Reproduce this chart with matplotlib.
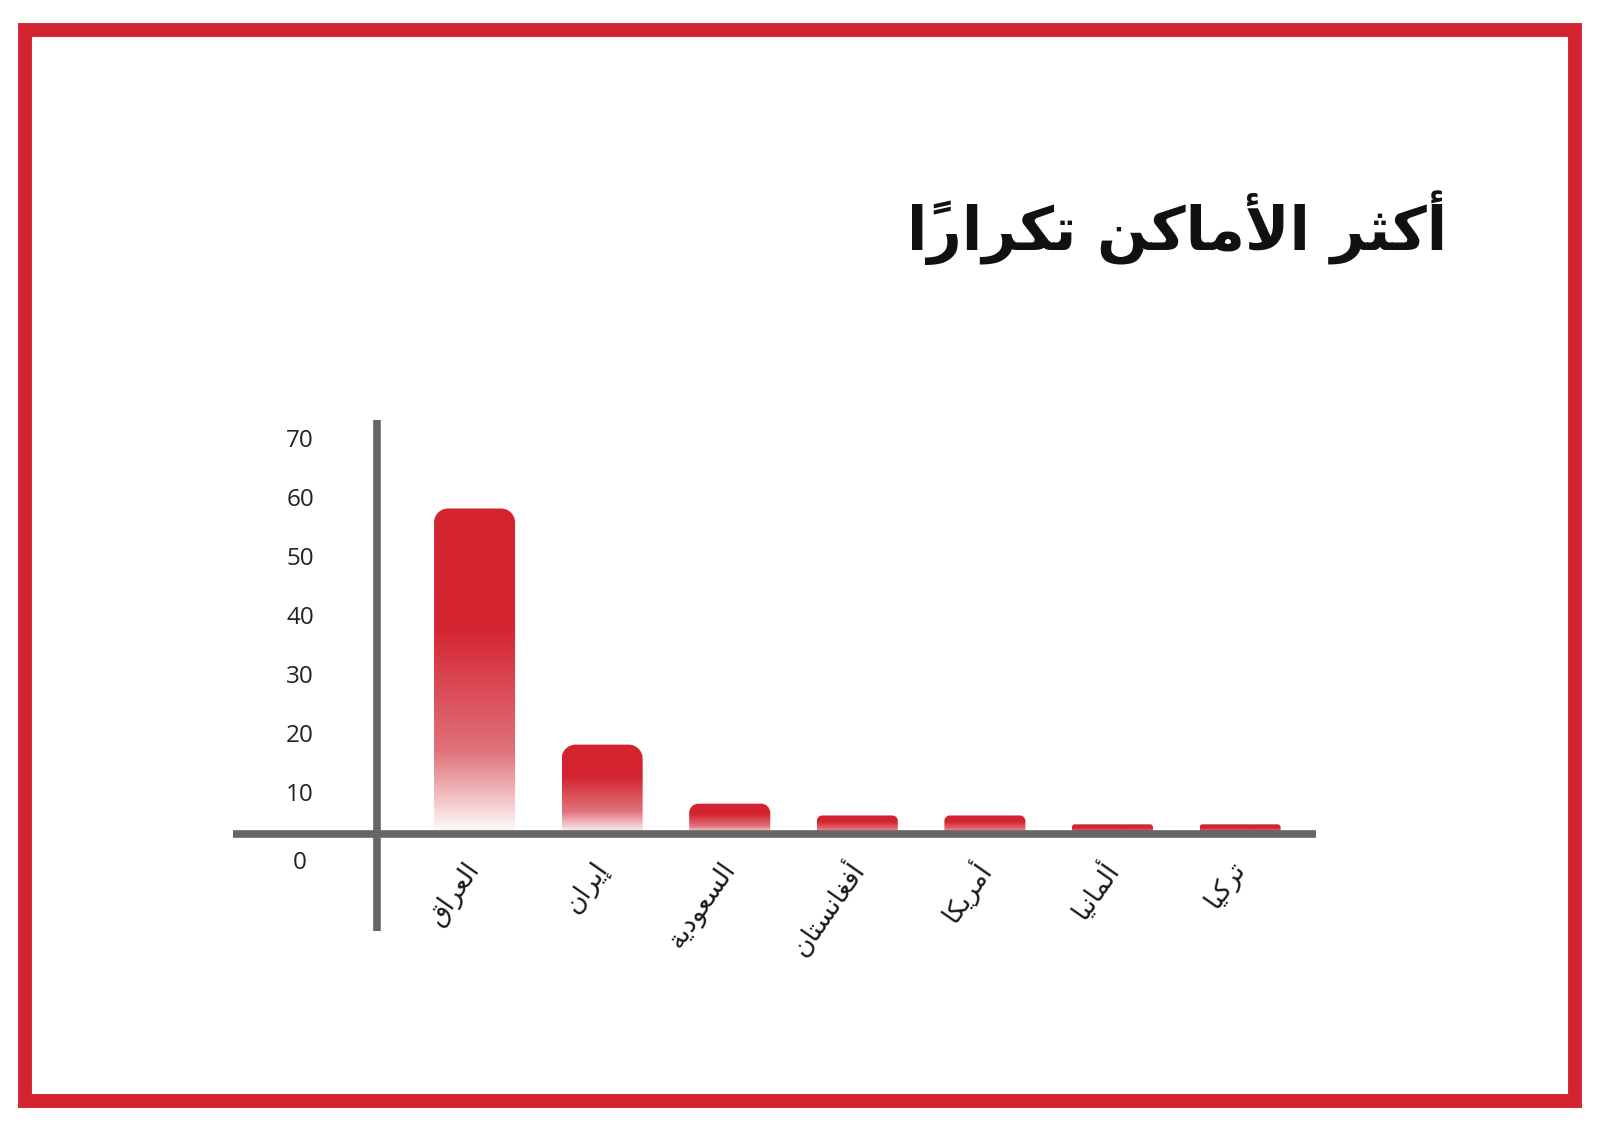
import numpy as np
import matplotlib
matplotlib.use('Agg')
import matplotlib.pyplot as plt
from matplotlib.path import Path
from matplotlib.patches import PathPatch, Rectangle
from matplotlib.colors import LinearSegmentedColormap
from matplotlib.transforms import ScaledTranslation

# البيانات
countries = ['العراق', 'إيران', 'السعودية', 'أفغانستان', 'أمريكا', 'ألمانيا', 'تركيا']
counts = [58, 18, 8, 6, 6, 4.5, 4.5]
y_ticks = [0, 10, 20, 30, 40, 50, 60, 70]
title = 'أكثر الأماكن تكرارًا'

RED = '#D42430'
GREY = '#666666'

# تشكيل الحروف العربية يدوياً (matplotlib لا يدعم الربط)
FORMS = {
    'ا': ('\uFE8D', '\uFE8E'), 'أ': ('\uFE83', '\uFE84'), 'إ': ('\uFE87', '\uFE88'),
    'ر': ('\uFEAD', '\uFEAE'), 'و': ('\uFEED', '\uFEEE'), 'د': ('\uFEA9', '\uFEAA'),
    'ة': ('\uFE93', '\uFE94'),
    'ل': ('\uFEDD', '\uFEDE', '\uFEDF', '\uFEE0'), 'ع': ('\uFEC9', '\uFECA', '\uFECB', '\uFECC'),
    'ق': ('\uFED5', '\uFED6', '\uFED7', '\uFED8'), 'ي': ('\uFEF1', '\uFEF2', '\uFEF3', '\uFEF4'),
    'ن': ('\uFEE5', '\uFEE6', '\uFEE7', '\uFEE8'), 'س': ('\uFEB1', '\uFEB2', '\uFEB3', '\uFEB4'),
    'ف': ('\uFED1', '\uFED2', '\uFED3', '\uFED4'), 'غ': ('\uFECD', '\uFECE', '\uFECF', '\uFED0'),
    'ت': ('\uFE95', '\uFE96', '\uFE97', '\uFE98'), 'م': ('\uFEE1', '\uFEE2', '\uFEE3', '\uFEE4'),
    'ك': ('\uFED9', '\uFEDA', '\uFEDB', '\uFEDC'), 'ث': ('\uFE99', '\uFE9A', '\uFE9B', '\uFE9C'),
}
LAM_ALEF = {'ا': ('\uFEFB', '\uFEFC'), 'أ': ('\uFEF7', '\uFEF8'), 'إ': ('\uFEF9', '\uFEFA')}
MARKS = {'\u064B'}


def is_letter(t):
    return t in FORMS or (len(t) == 2 and t[0] == 'ل')


def joins_next(t):
    return t in FORMS and len(FORMS[t]) == 4


def shape(text):
    toks = []
    i = 0
    while i < len(text):
        if text[i] == 'ل' and i + 1 < len(text) and text[i + 1] in LAM_ALEF:
            toks.append(text[i:i + 2])
            i += 2
        else:
            toks.append(text[i])
            i += 1
    out = []
    for k, t in enumerate(toks):
        if not is_letter(t):
            out.append(t)
            continue
        j = k - 1
        while j >= 0 and toks[j] in MARKS:
            j -= 1
        p = j >= 0 and joins_next(toks[j])
        j = k + 1
        while j < len(toks) and toks[j] in MARKS:
            j += 1
        n = joins_next(t) and j < len(toks) and is_letter(toks[j])
        if len(t) == 2:
            g = LAM_ALEF[t[1]][1 if p else 0]
        else:
            f = FORMS[t]
            if p and n:
                g = f[3]
            elif n:
                g = f[2]
            elif p:
                g = f[1]
            else:
                g = f[0]
        out.append(g)
    # ترتيب بصري من اليمين لليسار
    return ''.join(reversed(out))


fig = plt.figure(figsize=(16, 11.31), dpi=100)
fig.patch.set_facecolor('white')

# الإطار الأحمر
fig.add_artist(Rectangle((25 / 1600, 30 / 1131), 1550 / 1600, 1071 / 1131,
                         transform=fig.transFigure, fill=False,
                         edgecolor=RED, linewidth=10, joinstyle='miter'))

fig.text(1447 / 1600, 1 - 250 / 1131, shape(title), ha='right', va='baseline',
         fontsize=43, fontweight='bold', color='#111111', family='DejaVu Sans')

ax = fig.add_axes([0.1454, 0.1772, 0.6771, 0.4515])
ax.set_xlim(-1.896, 6.595)
ax.set_ylim(-13.5, 73.0)

x = np.arange(len(countries))
base = 2.9
width = 0.635

fig.canvas.draw()
px_x = ax.transData.transform((1, 0))[0] - ax.transData.transform((0, 0))[0]
px_y = ax.transData.transform((0, 1))[1] - ax.transData.transform((0, 0))[1]

cmap = LinearSegmentedColormap.from_list(
    'bar', [(0, RED), (0.36, RED), (0.75, '#E0737B'), (1.0, '#FFFFFF')])
grad = np.linspace(0, 1, 256).reshape(-1, 1)
k = 0.5523

for xi, v in zip(x, counts):
    x0, x1 = xi - width / 2, xi + width / 2
    y0, y1 = base, v
    h_px = (y1 - y0) * px_y
    r = min(14, 0.3 * h_px)
    rx, ry = r / px_x, r / px_y
    verts = [(x0, y0), (x0, y1 - ry),
             (x0, y1 - ry + k * ry), (x0 + rx - k * rx, y1), (x0 + rx, y1),
             (x1 - rx, y1),
             (x1 - rx + k * rx, y1), (x1, y1 - ry + k * ry), (x1, y1 - ry),
             (x1, y0), (x0, y0)]
    codes = [Path.MOVETO, Path.LINETO,
             Path.CURVE4, Path.CURVE4, Path.CURVE4,
             Path.LINETO,
             Path.CURVE4, Path.CURVE4, Path.CURVE4,
             Path.LINETO, Path.CLOSEPOLY]
    patch = PathPatch(Path(verts, codes), facecolor='none', edgecolor='none')
    ax.add_patch(patch)
    im = ax.imshow(grad, extent=[x0, x1, y0, y1], aspect='auto', cmap=cmap,
                   origin='upper', zorder=2, interpolation='bilinear')
    im.set_clip_path(patch)

ax.set_xlim(-1.896, 6.595)
ax.set_ylim(-13.5, 73.0)

for s in ['top', 'right']:
    ax.spines[s].set_visible(False)
ax.spines['left'].set_position(('data', -0.768))
ax.spines['bottom'].set_position(('data', base))
for s in ['left', 'bottom']:
    ax.spines[s].set_color(GREY)
    ax.spines[s].set_linewidth(5.5)
    ax.spines[s].set_capstyle('butt')
    ax.spines[s].set_zorder(3)

ax.set_yticks(y_ticks)
ax.set_yticklabels([str(t) for t in y_ticks], fontsize=17.5, color='#222222',
                   family='Open Sans')
ax.tick_params(axis='y', length=0, pad=55)
for lab in ax.get_yticklabels():
    lab.set_ha('center')
zero = ax.get_yticklabels()[0]
zero.set_transform(zero.get_transform() + ScaledTranslation(0, -9 / 100, fig.dpi_scale_trans))

ax.set_xticks(x)
ax.set_xticklabels([shape(c) for c in countries], fontsize=19, color='#1a1a1a',
                   family='DejaVu Sans', rotation=55, rotation_mode='anchor',
                   ha='right', va='center')
ax.tick_params(axis='x', length=0, pad=22)

fig.savefig('out.png', dpi=100, facecolor='white')
